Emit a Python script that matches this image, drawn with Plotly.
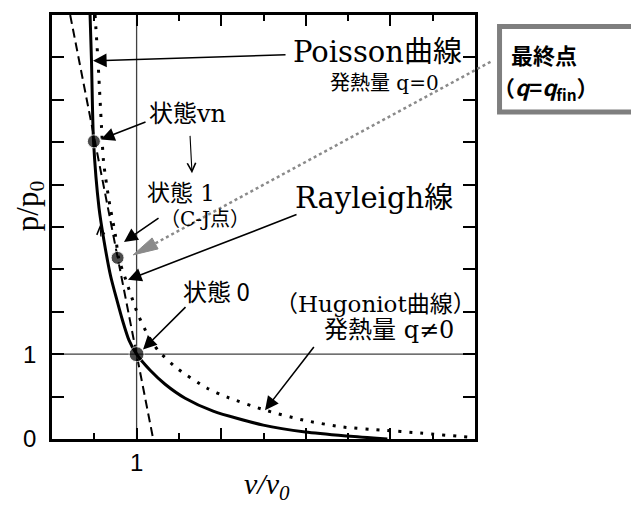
import plotly.graph_objects as go

# Poisson curve (heat release q = 0), v/v0 vs p/p0
poisson_v = [0.450, 0.467, 0.491, 0.556, 0.615, 0.692, 0.769, 0.834, 0.911, 1.000,
             1.160, 1.337, 1.574, 1.905, 2.497, 2.994, 3.491, 3.964]
poisson_p = [5.000, 4.448, 3.509, 2.723, 2.336, 1.925, 1.631, 1.397, 1.162, 1.000,
             0.810, 0.646, 0.481, 0.329, 0.164, 0.082, 0.035, 0.000]

# Hugoniot curve (heat release q != 0)
hugoniot_v = [0.509, 0.544, 0.586, 0.609, 0.675, 0.751, 0.787, 0.876, 1.012, 1.136,
              1.254, 1.479, 1.834, 2.071, 2.521, 2.970, 3.444, 3.882, 4.355, 4.911, 5.000]
hugoniot_p = [5.000, 4.448, 3.662, 3.275, 2.805, 2.394, 2.136, 1.866, 1.479, 1.221,
              1.045, 0.833, 0.599, 0.493, 0.340, 0.223, 0.141, 0.106, 0.070, 0.023, 0.015]

# Rayleigh line through state 0
rayleigh_v = [0.215, 1.196]
rayleigh_p = [5.0, 0.0]

# Marked states: state 0, state vn, state 1 (C-J point)
state_v = [1.000, 0.495, 0.775]
state_p = [1.000, 3.510, 2.136]
state_size = [15, 13, 13]

x_tick_vals = [0, 1, 2, 3, 4, 5]
x_tick_text = ["", "1", "", "", "", ""]
y_tick_vals = [0, 0.5, 1, 1.5, 2, 2.5, 3, 3.5, 4, 4.5, 5]
y_tick_text = ["0", "", "1", "", "", "", "", "", "", "", ""]

X_MAX, Y_MAX = 5.0, 5.0
SERIF = "DejaVu Serif, Noto Sans CJK JP"
SANS = "Noto Sans CJK JP, Liberation Sans"
GREY = "#8a8a8a"


def paper(v, p):
    return v / X_MAX, p / Y_MAX


fig = go.Figure()

fig.add_trace(go.Scatter(
    x=hugoniot_v, y=hugoniot_p, mode="lines",
    line=dict(color="black", width=3, dash="3px,8px", shape="spline", smoothing=0.7),
    hoverinfo="skip"))
fig.add_trace(go.Scatter(
    x=rayleigh_v, y=rayleigh_p, mode="lines",
    line=dict(color="black", width=2, dash="9px,5px"), hoverinfo="skip"))
fig.add_trace(go.Scatter(
    x=poisson_v, y=poisson_p, mode="lines",
    line=dict(color="black", width=3, shape="spline", smoothing=0.7),
    hoverinfo="skip"))
fig.add_trace(go.Scatter(
    x=state_v, y=state_p, mode="markers",
    marker=dict(color="black", size=state_size), hoverinfo="skip"))

# thin reference lines at v/v0 = 1 and p/p0 = 1
fig.add_shape(type="line", xref="x", yref="y", x0=1, x1=1, y0=0, y1=Y_MAX,
              line=dict(color="#404040", width=1.3), layer="below")
fig.add_shape(type="line", xref="x", yref="y", x0=0, x1=X_MAX, y0=1, y1=1,
              line=dict(color="#404040", width=1.3), layer="below")

# grey dotted leader from the final-point box to the C-J point
x0, y0 = paper(5.183, 4.448)
x1, y1 = paper(1.219, 2.306)
fig.add_shape(type="line", xref="paper", yref="paper", x0=x0, y0=y0, x1=x1, y1=y1,
              line=dict(color=GREY, width=2.5, dash="dot"))
tip = paper(0.959, 2.171)
c1 = paper(1.183, 2.371)
c2 = paper(1.254, 2.242)
fig.add_shape(type="path", xref="paper", yref="paper",
              path=f"M{tip[0]},{tip[1]} L{c1[0]},{c1[1]} L{c2[0]},{c2[1]} Z",
              fillcolor=GREY, line=dict(color=GREY, width=1))

# final-point box
bx0, by0 = paper(5.29, 3.856)
bx1, by1 = paper(7.5, 4.865)
fig.add_shape(type="rect", xref="paper", yref="paper", x0=bx0, y0=by0, x1=bx1, y1=by1,
              line=dict(color="#7f7f7f", width=5), fillcolor="white")

annotations = []


def label(text, v, p, size, family=SERIF, **kw):
    annotations.append(dict(text=text, x=v, y=p, xref="x", yref="y", showarrow=False,
                            font=dict(family=family, size=size, color="black"),
                            xanchor="center", yanchor="middle", **kw))


def arrow(tail, head, style=2, size=1.7, width=1.6):
    annotations.append(dict(text="", x=head[0], y=head[1], ax=tail[0], ay=tail[1],
                            xref="x", yref="y", axref="x", ayref="y", showarrow=True,
                            arrowhead=style, arrowsize=size, arrowwidth=width,
                            arrowcolor="black", standoff=0, startstandoff=0))


label("Poisson曲線", 3.842, 4.566, 29)
label("発熱量 q=0", 3.936, 4.202, 20)
label("状態vn", 1.596, 3.838, 24)
label("状態 1", 1.525, 2.905, 23)
label("（C-J点）", 1.809, 2.590, 20)
label("Rayleigh線", 3.806, 2.840, 29)
label("状態 0", 1.939, 1.749, 24, family=SANS)
label("（Hugoniot曲線）", 3.818, 1.596, 23)
label("発熱量 q≠0", 3.983, 1.291, 24)

arrow((2.778, 4.531), (0.485, 4.460))
arrow((1.123, 3.744), (0.579, 3.533))
arrow((1.631, 3.592), (1.655, 3.134), style=5, size=1.5, width=1.1)
arrow((1.277, 2.617), (0.851, 2.324))
arrow((2.908, 2.653), (0.898, 1.878))
arrow((1.596, 1.573), (1.076, 1.056))
arrow((3.109, 1.103), (2.518, 0.340))
arrow((0.579, 2.371), (0.567, 2.523), style=5, size=1.4, width=1.1)

# text inside the final-point box
tx, ty = paper(5.40, 4.540)
annotations.append(dict(text="<b>最終点</b>", x=tx, y=ty, xref="paper", yref="paper",
                        showarrow=False, xanchor="left", yanchor="middle",
                        font=dict(family=SANS, size=22, color="black")))
tx, ty = paper(5.190, 4.150)
annotations.append(dict(text="<b>（<i>q</i>=<i>q</i><sub>fin</sub>）</b>", x=tx, y=ty,
                        xref="paper", yref="paper", showarrow=False,
                        xanchor="left", yanchor="middle",
                        font=dict(family=SANS, size=22, color="black")))

# axis titles
annotations.append(dict(text="p/p<sub>0</sub>", x=-0.052, y=0.549, xref="paper", yref="paper",
                        showarrow=False, textangle=-90, xanchor="center", yanchor="middle",
                        font=dict(family="Liberation Serif", size=31, color="black")))
annotations.append(dict(text="<i>v/v<sub>0</sub></i>", x=0.508, y=-0.112, xref="paper",
                        yref="paper", showarrow=False, xanchor="center", yanchor="middle",
                        font=dict(family="Liberation Serif", size=30, color="black")))

axis_common = dict(showline=True, linecolor="black", linewidth=2.5, mirror="ticks",
                   ticks="inside", tickcolor="black", tickwidth=2, showgrid=False,
                   zeroline=False, tickmode="array",
                   tickfont=dict(family="Liberation Sans", size=24, color="black"))

fig.update_layout(
    width=631, height=506,
    margin=dict(l=52, r=156, t=13, b=67),
    paper_bgcolor="white", plot_bgcolor="white",
    showlegend=False,
    annotations=annotations,
    xaxis=dict(range=[0, X_MAX], tickvals=x_tick_vals, ticktext=x_tick_text, ticklen=11,
               ticklabelstandoff=0,
               minor=dict(dtick=0.5, ticks="inside", ticklen=6, tickcolor="black",
                          tickwidth=2, showgrid=False),
               **axis_common),
    yaxis=dict(range=[0, Y_MAX], tickvals=y_tick_vals, ticktext=y_tick_text, ticklen=12,
               ticklabelstandoff=8, **axis_common),
)

fig.write_html("out.html")
